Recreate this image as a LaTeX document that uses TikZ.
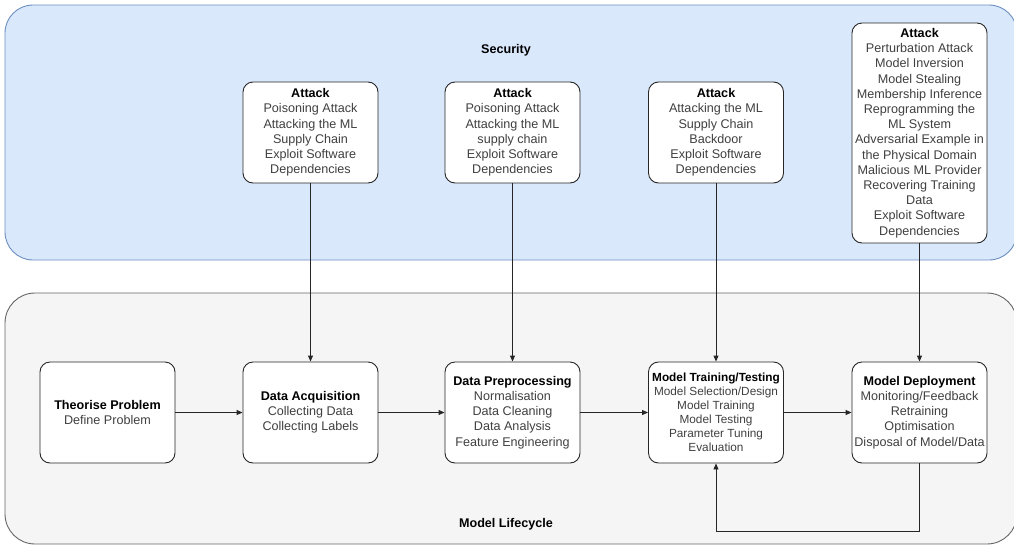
\documentclass[tikz,border=0pt]{standalone}
\usepackage{fontspec}
\setmainfont{Liberation Sans}
\usetikzlibrary{arrows.meta}
\definecolor{secfill}{HTML}{DAE8FC}
\definecolor{secline}{HTML}{6C8EBF}
\definecolor{lifefill}{HTML}{F5F5F5}
\definecolor{lifeline}{HTML}{666666}

\begin{document}
\begin{tikzpicture}[x=1pt,y=-1pt,>={Triangle[length=6pt,width=5pt]},
        box/.style={draw=black!85,fill=white,rounded corners=10pt,line width=0.9pt,
                minimum width=135pt,minimum height=101pt,align=center,inner sep=1pt,
                text=black!75,font=\fontsize{12.6}{15.2}\selectfont},
        arr/.style={->,draw=black!85,line width=0.9pt},
        lbl/.style={font=\fontsize{12.6}{15.2}\selectfont\bfseries}]
        \useasboundingbox (0,0) rectangle (1014,544);
        \clip (0,0) rectangle (1014,544);

        % the two swimlanes
        \draw[fill=secfill,draw=secline,rounded corners=28pt,line width=0.9pt] (5,5) rectangle (1017,260);
        \draw[fill=lifefill,draw=lifeline,rounded corners=30pt,line width=0.9pt] (5,293) rectangle (1017,544);
        \node[lbl] (sec) at (506,50) {Security};
        \node[lbl] (life) at (506,524) {Model Lifecycle};

        % attack boxes
        \node[box] (atkA) at (310.5,132.5) {\textbf{\color{black}Attack}\\Poisoning Attack\\Attacking the ML\\Supply Chain\\Exploit Software\\Dependencies};
        \node[box] (atkB) at (512.5,132.5) {\textbf{\color{black}Attack}\\Poisoning Attack\\Attacking the ML\\supply chain\\Exploit Software\\Dependencies};
        \node[box] (atkC) at (716,132.5) {\textbf{\color{black}Attack}\\Attacking the ML\\Supply Chain\\Backdoor\\Exploit Software\\Dependencies};
        \node[box,minimum height=220pt] (atkD) at (919.5,133) {\textbf{\color{black}Attack}\\Perturbation Attack\\Model Inversion\\Model Stealing\\Membership Inference\\Reprogramming the\\ML System\\Adversarial Example in\\the Physical Domain\\Malicious ML Provider\\Recovering Training\\Data\\Exploit Software\\Dependencies};

        % lifecycle stages
        \node[box] (theorise) at (107.5,412.5) {\textbf{\color{black}Theorise Problem}\\Define Problem};
        \node[box] (acq) at (310.5,412.5) {\textbf{\color{black}Data Acquisition}\\Collecting Data\\Collecting Labels};
        \node[box] (prep) at (512.5,412.5) {\textbf{\color{black}Data Preprocessing}\\Normalisation\\Data Cleaning\\Data Analysis\\Feature Engineering};
        \node[box,font=\fontsize{11.8}{14.1}\selectfont] (train) at (716,412.5) {\textbf{\color{black}Model Training/Testing}\\Model Selection/Design\\Model Training\\Model Testing\\Parameter Tuning\\Evaluation};
        \node[box] (deploy) at (919.5,412.5) {\textbf{\color{black}Model Deployment}\\Monitoring/Feedback\\Retraining\\Optimisation\\Disposal of Model/Data};

        % flow through the lifecycle
        \foreach \a/\b in {theorise/acq,acq/prep,prep/train,train/deploy}
                \draw[arr] (\a) -- (\b);

        % attacks on each stage
        \foreach \a/\b in {atkA/acq,atkB/prep,atkC/train,atkD/deploy}
                \draw[arr] (\a) -- (\b);

        % feedback loop
        \draw[arr] (deploy.south) -- ++(0,67.5) -| (train.south);
\end{tikzpicture}
\end{document}
